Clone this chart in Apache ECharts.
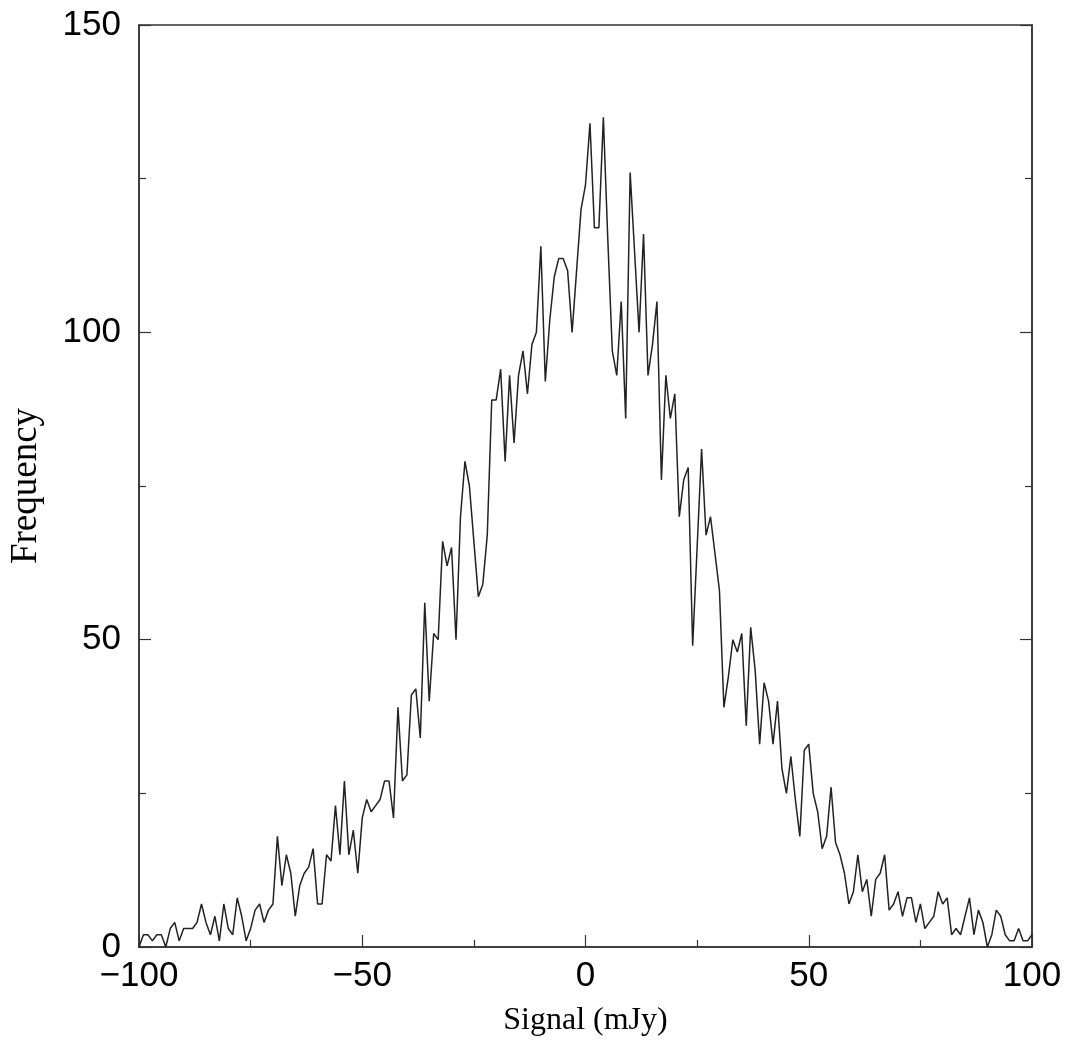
<!DOCTYPE html>
<html>
<head>
<meta charset="utf-8">
<script src="https://cdn.jsdelivr.net/npm/echarts@6/dist/echarts.min.js"></script>
<style>
html,body{margin:0;padding:0;background:#fff;}
#chart{width:1069px;height:1056px;}
</style>
</head>
<body>
<div id="chart"></div>
<script>
// Bin centres (mJy)
const signalBins = [
-100,-99,-98,-97,-96,-95,-94,-93,-92,-91,-90,-89,-88,-87,-86,-85,-84,-83,-82,-81,
-80,-79,-78,-77,-76,-75,-74,-73,-72,-71,-70,-69,-68,-67,-66,-65,-64,-63,-62,-61,
-60,-59,-58,-57,-56,-55,-54,-53,-52,-51,-50,-49,-48,-47,-46,-45,-44,-43,-42,-41,
-40,-39,-38,-37,-36,-35,-34,-33,-32,-31,-30,-29,-28,-27,-26,-25,-24,-23,-22,-21,
-20,-19,-18,-17,-16,-15,-14,-13,-12,-11,-10,-9,-8,-7,-6,-5,-4,-3,-2,-1,
0,1,2,3,4,5,6,7,8,9,10,11,12,13,14,15,16,17,18,19,
20,21,22,23,24,25,26,27,28,29,30,31,32,33,34,35,36,37,38,39,
40,41,42,43,44,45,46,47,48,49,50,51,52,53,54,55,56,57,58,59,
60,61,62,63,64,65,66,67,68,69,70,71,72,73,74,75,76,77,78,79,
80,81,82,83,84,85,86,87,88,89,90,91,92,93,94,95,96,97,98,99,100
];
// Frequency per bin
const frequency = [
0,2,2,1,2,2,0,3,4,1,3,3,3,4,7,4,2,5,1,7,
3,2,8,5,1,3,6,7,4,6,7,18,10,15,12,5,10,12,13,16,
7,7,15,14,23,15,27,15,19,12,21,24,22,23,24,27,27,21,39,27,
28,41,42,34,56,40,51,50,66,62,65,50,70,79,75,66,57,59,67,89,
89,94,79,93,82,93,97,90,98,100,114,92,102,109,112,112,110,100,110,120,
124,134,117,117,135,115,97,93,105,86,126,113,100,116,93,98,105,76,93,86,
90,70,76,78,49,65,81,67,70,64,58,39,44,50,48,51,36,52,45,33,
43,40,33,40,29,25,31,24,18,32,33,25,22,16,18,26,17,15,12,7,
9,15,9,11,5,11,12,15,6,7,9,5,8,8,4,7,3,4,5,9,
7,8,2,3,2,5,8,2,6,4,0,2,6,5,2,1,1,3,1,1,2
];
const xTicksMajor = [-100,-50,0,50,100];
const yTicksMajor = [0,50,100,150];

const pts = signalBins.map((x,i)=>[x,frequency[i]]);
const tickFont = '"Liberation Sans Narrow","Arial Narrow","Liberation Sans",Arial,sans-serif';
const titleFont = '"Liberation Serif","Times New Roman",serif';

const chart = echarts.init(document.getElementById('chart'), null, {renderer:'canvas'});
chart.setOption({
  animation:false,
  backgroundColor:'#fff',
  grid:{left:136.5,right:37,top:25,bottom:109,show:true,borderColor:'#333',borderWidth:1.5,backgroundColor:'transparent'},
  xAxis:{
    type:'value',min:-100,max:100,interval:50,
    axisLine:{show:true,onZero:false,lineStyle:{color:'#333',width:1.5}},
    axisTick:{show:true,inside:true,length:12,lineStyle:{color:'#333',width:1.2}},
    minorTick:{show:true,splitNumber:2,length:7,lineStyle:{color:'#333',width:1.2}},
    splitLine:{show:false},
    axisLabel:{color:'#000',fontFamily:tickFont,fontSize:35,margin:12,
      formatter:v=>xTicksMajor.includes(v)?String(v).replace('-','\u2212'):''},
    name:'Signal (mJy)',nameLocation:'middle',nameGap:58,
    nameTextStyle:{color:'#000',fontFamily:titleFont,fontSize:32}
  },
  yAxis:[{
    type:'value',min:0,max:150,interval:50,
    axisLine:{show:true,onZero:false,lineStyle:{color:'#333',width:1.5}},
    axisTick:{show:true,inside:true,length:12,lineStyle:{color:'#333',width:1.2}},
    minorTick:{show:true,splitNumber:2,length:7,lineStyle:{color:'#333',width:1.2}},
    splitLine:{show:false},
    axisLabel:{color:'#000',fontFamily:tickFont,fontSize:35,margin:18,
      formatter:v=>yTicksMajor.includes(v)?String(v):''},
    name:'Frequency',nameLocation:'middle',nameGap:94,nameRotate:90,
    nameTextStyle:{color:'#000',fontFamily:titleFont,fontSize:37}
  },{
    type:'value',min:0,max:150,interval:50,position:'right',
    axisLine:{show:true,onZero:false,lineStyle:{color:'#333',width:1.5}},
    axisTick:{show:true,inside:true,length:12,lineStyle:{color:'#333',width:1.2}},
    minorTick:{show:true,splitNumber:2,length:7,lineStyle:{color:'#333',width:1.2}},
    splitLine:{show:false},
    axisLabel:{show:false}
  }],
  series:[{
    type:'line',data:pts,showSymbol:false,symbol:'none',
    lineStyle:{color:'#222',width:1.5},
    clip:true
  }]
});
</script>
</body>
</html>
